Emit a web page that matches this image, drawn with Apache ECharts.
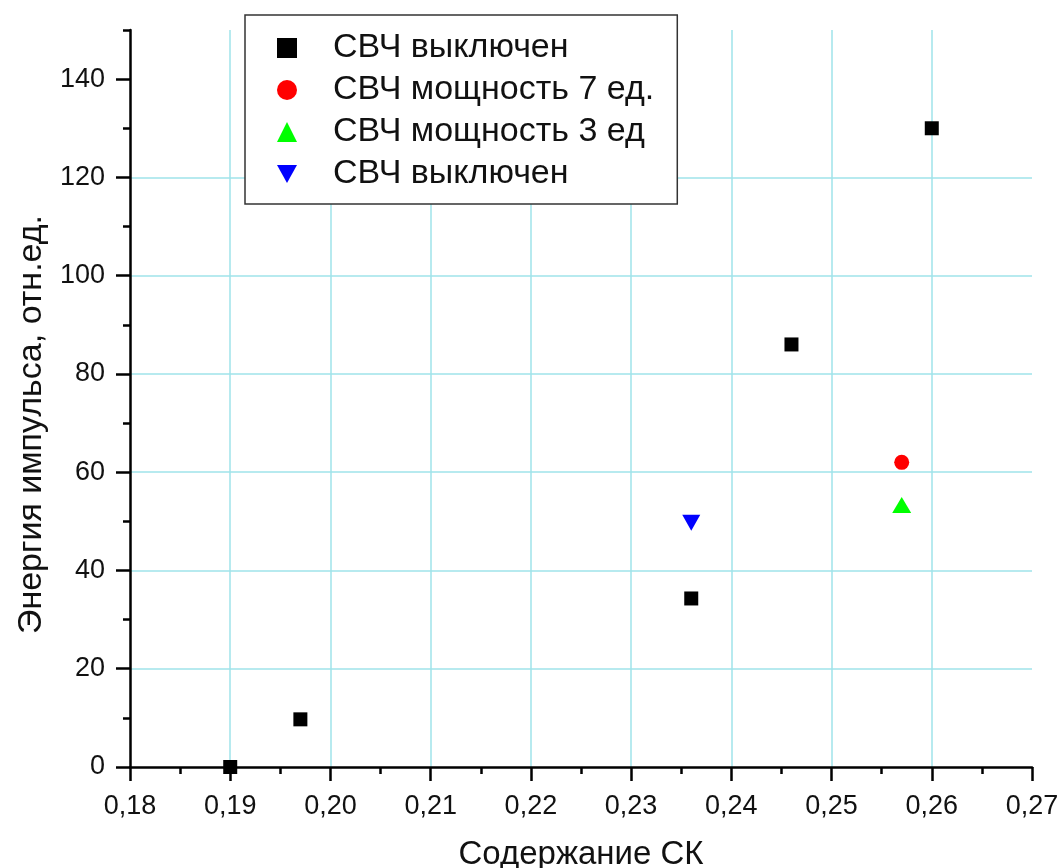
<!DOCTYPE html>
<html>
<head>
<meta charset="utf-8">
<script src="https://cdn.jsdelivr.net/npm/echarts@6/dist/echarts.min.js"></script>
<style>
  html, body { margin: 0; padding: 0; background: #fff; }
  #chart { width: 1063px; height: 868px; }
</style>
</head>
<body>
<div id="chart"></div>
<script>
// data
const offData = [[0.19, 0], [0.197, 9.7], [0.236, 34.3], [0.246, 86], [0.26, 130]];
const power7Data = [[0.257, 62]];
const power3Data = [[0.257, 53.3]];
const offData2 = [[0.236, 49.7]];
const yMajorTicks = [0, 20, 40, 60, 80, 100, 120, 140];

const FONT = 'Liberation Sans, Arial, sans-serif';
const GRID_COLOR = '#9fe3ea';

const chart = echarts.init(document.getElementById('chart'));

const option = {
  backgroundColor: '#fff',
  animation: false,
  grid: { left: 130, right: 31, top: 30, bottom: 101, containLabel: false, outerBoundsMode: 'none' },
  legend: {
    orient: 'vertical',
    left: 245,
    top: 15,
    padding: [16, 23, 13, 32],
    itemGap: 8,
    itemWidth: 20,
    itemHeight: 20,
    backgroundColor: '#fff',
    borderColor: '#333',
    borderWidth: 1.5,
    textStyle: { fontFamily: FONT, fontSize: 34, lineHeight: 34, color: '#111', padding: [0, 0, 0, 31] },
    data: ['СВЧ выключен', 'СВЧ мощность 7 ед.', 'СВЧ мощность 3 ед', 'СВЧ выключен ']
  },
  xAxis: {
    type: 'value',
    min: 0.18,
    max: 0.27,
    interval: 0.01,
    name: 'Содержание СК',
    nameLocation: 'middle',
    nameGap: 71,
    nameTextStyle: { fontFamily: FONT, fontSize: 33, color: '#111' },
    axisLine: { show: true, onZero: false, lineStyle: { color: '#000', width: 2.5 } },
    axisTick: { show: true, length: 14, lineStyle: { color: '#000', width: 2.5 } },
    minorTick: { show: true, splitNumber: 2, length: 7, lineStyle: { color: '#000', width: 2.5 } },
    axisLabel: {
      fontFamily: FONT, fontSize: 27, color: '#111', margin: 26,
      formatter: v => v.toFixed(2).replace('.', ',')
    },
    splitLine: { show: true, showMinLine: false, showMaxLine: false, lineStyle: { color: GRID_COLOR, width: 1.5 } }
  },
  yAxis: [{
    type: 'value',
    min: 0,
    max: 150,
    interval: 20,
    name: 'Энергия импульса, отн.ед.',
    nameLocation: 'middle',
    nameGap: 78,
    nameTextStyle: { fontFamily: FONT, fontSize: 34, color: '#111', padding: [0, 52, 0, 0] },
    axisLine: { show: true, onZero: false, lineStyle: { color: '#000', width: 2.5 } },
    axisTick: { show: true, length: 14, customValues: yMajorTicks, lineStyle: { color: '#000', width: 2.5 } },
    axisLabel: {
      fontFamily: FONT, fontSize: 27, color: '#111', margin: 25,
      customValues: yMajorTicks
    },
    splitLine: { show: true, showMinLine: false, showMaxLine: false, lineStyle: { color: GRID_COLOR, width: 1.5 } }
  }, {
    // short ticks every 10
    type: 'value',
    min: 0,
    max: 150,
    interval: 10,
    position: 'left',
    axisLine: { show: false },
    axisTick: { show: true, length: 7, lineStyle: { color: '#000', width: 2.5 } },
    axisLabel: { show: false },
    splitLine: { show: false }
  }],
  series: [
    {
      name: 'СВЧ выключен', type: 'scatter', data: offData,
      symbol: 'rect', symbolSize: 14, itemStyle: { color: '#000', opacity: 1 }
    },
    {
      name: 'СВЧ мощность 7 ед.', type: 'scatter', data: power7Data,
      symbol: 'circle', symbolSize: 15, itemStyle: { color: '#ff0000', opacity: 1 }
    },
    {
      name: 'СВЧ мощность 3 ед', type: 'scatter', data: power3Data,
      symbol: 'triangle', symbolSize: [19, 16], itemStyle: { color: '#00ff00', opacity: 1 }
    },
    {
      name: 'СВЧ выключен ', type: 'scatter', data: offData2,
      symbol: 'path://M0,0L10,0L5,9Z', symbolSize: [18, 16], itemStyle: { color: '#0000ff', opacity: 1 }
    }
  ]
};

chart.setOption(option);
window.addEventListener('resize', () => chart.resize());
</script>
</body>
</html>
